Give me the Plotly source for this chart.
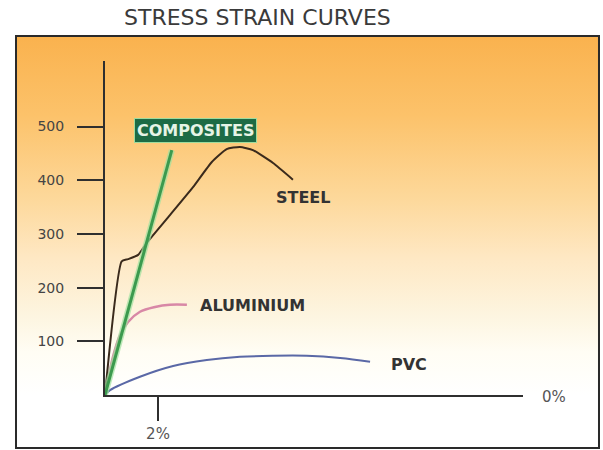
import base64
import plotly.graph_objects as go

# ---- data (strain in %, stress) ----
composites_x = [0.0, 2.52]
composites_y = [0, 456]

steel_x = [0.0, 0.63, 0.87, 1.25, 1.57, 2.45, 3.32, 4.03, 4.59, 5.09, 5.58, 6.34, 7.09]
steel_y = [0, 249, 253, 261, 283, 335, 387, 434, 458, 462, 456, 432, 401]

aluminium_x = [0.0, 0.30, 0.57, 0.87, 1.32, 1.89, 2.45, 3.09]
aluminium_y = [0, 71, 112, 136, 155, 164, 168, 168]

pvc_x = [0.0, 0.19, 1.32, 2.57, 3.84, 5.09, 6.34, 7.61, 8.87, 10.0]
pvc_y = [0, 9, 34, 54, 65, 71, 73, 73, 69, 62]

y_ticks = [100, 200, 300, 400, 500]
x_ticks = [2]
x_tick_labels = ["2%"]

# ---- background gradient (SVG data URI) ----
svg = (
    '<svg xmlns="http://www.w3.org/2000/svg" width="100" height="100" preserveAspectRatio="none">'
    '<defs><linearGradient id="g" x1="0" y1="0" x2="0" y2="1">'
    '<stop offset="0" stop-color="#fab24e"/>'
    '<stop offset="0.22" stop-color="#fcc26a"/>'
    '<stop offset="0.45" stop-color="#fdd89a"/>'
    '<stop offset="0.62" stop-color="#fee8c4"/>'
    '<stop offset="0.78" stop-color="#fdf5e0"/>'
    '<stop offset="0.88" stop-color="#fffdf4"/>'
    '<stop offset="1" stop-color="#ffffff"/>'
    '</linearGradient></defs>'
    '<rect x="0" y="0" width="100" height="100" fill="url(#g)"/></svg>'
)
svg_uri = "data:image/svg+xml;base64," + base64.b64encode(svg.encode()).decode()

fig = go.Figure()

fig.add_trace(go.Scatter(x=pvc_x, y=pvc_y, mode="lines",
                         line=dict(color="#5a68a6", width=2, shape="spline"),
                         hoverinfo="skip", showlegend=False))
fig.add_trace(go.Scatter(x=aluminium_x, y=aluminium_y, mode="lines",
                         line=dict(color="#d888a6", width=2.5, shape="spline"),
                         hoverinfo="skip", showlegend=False))
fig.add_trace(go.Scatter(x=steel_x, y=steel_y, mode="lines",
                         line=dict(color="#3a2a1c", width=2, shape="spline", smoothing=0.5),
                         hoverinfo="skip", showlegend=False))
fig.add_trace(go.Scatter(x=composites_x, y=composites_y, mode="lines",
                         line=dict(color="rgba(160,225,160,0.7)", width=6),
                         hoverinfo="skip", showlegend=False))
fig.add_trace(go.Scatter(x=composites_x, y=composites_y, mode="lines",
                         line=dict(color="#3c9a4e", width=3),
                         hoverinfo="skip", showlegend=False))

label_font = dict(family="DejaVu Sans", size=16, color="#333333", weight="bold")

annotations = [
    dict(text="STRESS STRAIN CURVES", xref="paper", yref="paper", x=0.366, y=1.130,
         xanchor="center", yanchor="middle", showarrow=False,
         font=dict(family="DejaVu Sans", size=22, color="#3a3a3a")),
    dict(text="COMPOSITES", x=3.40, y=493, xref="x", yref="y", showarrow=False,
         xanchor="center", yanchor="middle",
         font=dict(family="DejaVu Sans", size=16, color="#e6f4e6", weight="bold"),
         bgcolor="#1d6b45", bordercolor="#9edc9e", borderwidth=1, borderpad=2),
    dict(text="STEEL", x=7.47, y=367, xref="x", yref="y", showarrow=False,
         xanchor="center", yanchor="middle", font=label_font),
    dict(text="ALUMINIUM", x=5.55, y=166, xref="x", yref="y", showarrow=False,
         xanchor="center", yanchor="middle", font=label_font),
    dict(text="PVC", x=11.47, y=56, xref="x", yref="y", showarrow=False,
         xanchor="center", yanchor="middle", font=label_font),
    dict(text="0%", xref="paper", yref="paper", x=1.074, y=-0.006, showarrow=False,
         xanchor="center", yanchor="middle",
         font=dict(family="DejaVu Sans", size=15, color="#555555")),
]

fig.update_layout(
    width=603, height=450,
    margin=dict(l=105, r=80, t=61, b=55, pad=0, autoexpand=False),
    paper_bgcolor="white",
    plot_bgcolor="rgba(0,0,0,0)",
    showlegend=False,
    annotations=annotations,
    images=[dict(source=svg_uri, xref="paper", yref="paper",
                 x=-0.2129, y=1.0749, sizex=1.3947, sizey=1.0749,
                 sizing="stretch", xanchor="left", yanchor="top", layer="below")],
    shapes=[dict(type="rect", xref="paper", yref="paper",
                 x0=-0.2129, x1=1.1818, y0=-0.1587, y1=1.0749,
                 line=dict(color="#2a2a2a", width=2), fillcolor="rgba(0,0,0,0)",
                 layer="above")],
)

fig.update_xaxes(range=[0, 15.77], showgrid=False, zeroline=False, automargin=False,
                 showline=True, linecolor="#2f2f2f", linewidth=2,
                 ticks="outside", ticklen=24, tickwidth=2, tickcolor="#2f2f2f",
                 tickvals=x_ticks, ticktext=x_tick_labels,
                 tickfont=dict(family="DejaVu Sans", size=15, color="#555555"),
                 fixedrange=True)
fig.update_yaxes(range=[0, 622], showgrid=False, zeroline=False, automargin=False,
                 showline=True, linecolor="#2f2f2f", linewidth=2,
                 ticks="outside", ticklen=26, tickwidth=2, tickcolor="#2f2f2f",
                 tickvals=y_ticks,
                 tickfont=dict(family="DejaVu Sans", size=14, color="#444444"),
                 ticklabelstandoff=10,
                 fixedrange=True)

fig.write_html("out.html", config={"displayModeBar": False},
               post_script="document.body.style.margin='0';document.body.style.overflow='hidden';")
